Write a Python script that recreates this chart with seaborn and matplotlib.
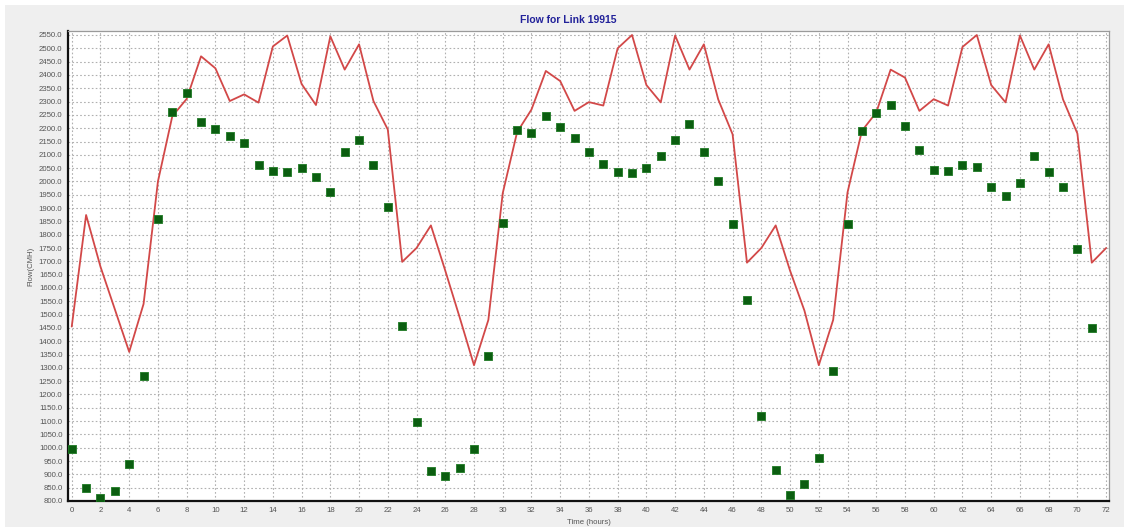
import numpy as np
import pandas as pd
import matplotlib
matplotlib.use("Agg")
import matplotlib.pyplot as plt
import seaborn as sns
from matplotlib.patches import Rectangle

# Hourly link flow (CMH): modelled series (line) and counted series (squares)
hours_model = list(range(0, 73))
flow_model = [
    1455, 1874, 1680, 1520, 1360, 1540, 2000, 2245, 2310, 2470,
    2425, 2302, 2327, 2296, 2507, 2548, 2366, 2287, 2545, 2420,
    2515, 2302, 2195, 1698, 1750, 1835, 1665, 1490, 1310, 1480,
    1956, 2185, 2270, 2415, 2377, 2265, 2298, 2285, 2500, 2550,
    2362, 2297, 2548, 2420, 2515, 2308, 2177, 1695, 1750, 1835,
    1665, 1515, 1310, 1480, 1959, 2190, 2259, 2420, 2390, 2265,
    2309, 2285, 2505, 2550, 2362, 2297, 2548, 2420, 2515, 2308,
    2180, 1695, 1750,
]

hours_count = list(range(0, 72))
flow_count = [
    995, 848, 812, 837, 938, 1270, 1859, 2259, 2333, 2222,
    2197, 2170, 2145, 2062, 2040, 2037, 2050, 2016, 1960, 2112,
    2156, 2063, 1904, 1456, 1096, 912, 894, 923, 995, 1343,
    1843, 2195, 2181, 2245, 2206, 2162, 2112, 2066, 2036, 2033,
    2051, 2094, 2157, 2215, 2112, 2000, 1840, 1555, 1120, 917,
    823, 862, 962, 1288, 1840, 2190, 2256, 2288, 2209, 2118,
    2044, 2039, 2062, 2054, 1981, 1945, 1994, 2096, 2036, 1981,
    1746, 1448,
]

x_ticks = list(range(0, 73, 2))
y_ticks = list(range(800, 2551, 50))

model_df = pd.DataFrame({"hour": hours_model, "flow": flow_model})
count_df = pd.DataFrame({"hour": hours_count, "flow": flow_count})

sns.set_style("white")
plt.rcParams["font.family"] = ["Liberation Sans", "DejaVu Sans"]

W, H = 1129, 531
fig = plt.figure(figsize=(W / 100, H / 100), dpi=100, facecolor="white")

# grey panel inside a thin white frame
fig.patches.append(Rectangle((5 / W, 4 / H), (W - 10) / W, (H - 9) / H,
                             transform=fig.transFigure, facecolor="#efefef",
                             edgecolor="none", zorder=-10))

ax = fig.add_axes([68 / W, 1 - 501 / H, (1109 - 68) / W, (501 - 31) / H])
ax.set_facecolor("white")

sns.lineplot(data=model_df, x="hour", y="flow", ax=ax, color="#d24848",
             linewidth=1.3, zorder=3)
sns.scatterplot(data=count_df, x="hour", y="flow", ax=ax, marker="s", s=30,
                color="#0b5e10", edgecolor="#1f7a24", linewidth=0.6, zorder=4)

ax.set_xlim(-0.26, 72.2)
ax.set_ylim(800, 2565)
ax.set_xticks(x_ticks)
ax.set_yticks(y_ticks)
ax.set_yticklabels([f"{v:.1f}" for v in y_ticks])
ax.tick_params(axis="both", length=0, labelsize=5.6, colors="#555555", pad=4)

ax.grid(True, which="major", color="#b0b0b0", linestyle=(0, (1.5, 2)),
        linewidth=0.8)
ax.set_axisbelow(True)

ax.spines["left"].set_color("#111111")
ax.spines["left"].set_linewidth(1.6)
ax.spines["bottom"].set_color("#111111")
ax.spines["bottom"].set_linewidth(1.6)
ax.spines["bottom"].set_linestyle((0, (3, 1)))
for side in ("top", "right"):
    ax.spines[side].set_color("#9a9a9a")
    ax.spines[side].set_linewidth(0.9)

ax.set_xlabel("Time (hours)", fontsize=5.6, color="#555555", labelpad=4)
ax.set_ylabel("Flow(CMH)", fontsize=5.6, color="#555555", labelpad=3)

fig.text(568 / W, 1 - 20 / H, "Flow for Link 19915", ha="center", va="center",
         fontsize=7.5, fontweight="bold", color="#22229a")

fig.savefig("out.png", dpi=100, facecolor=fig.get_facecolor())
